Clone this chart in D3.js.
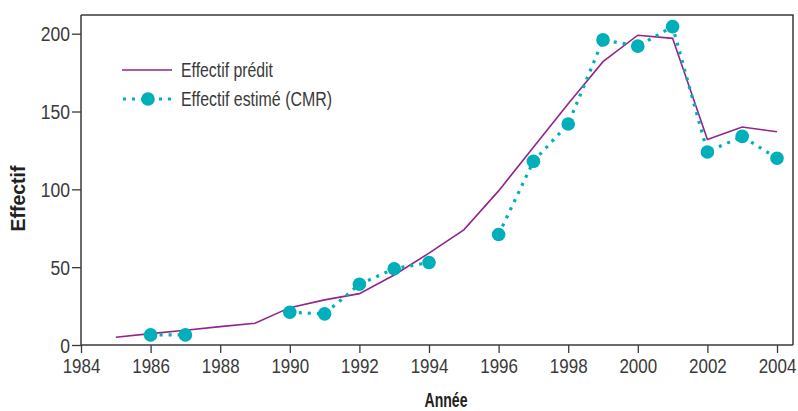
<!DOCTYPE html>
<html>
<head>
<meta charset="utf-8">
<script src="https://cdn.jsdelivr.net/npm/d3@7"></script>
<style>
  html, body { margin: 0; padding: 0; background: #fff; }
  svg { display: block; }
  text { font-family: "Liberation Sans", Arial, sans-serif; }
</style>
</head>
<body>
<svg id="chart" width="798" height="411"></svg>
<script>
// Years covered by each series
const predYears = [1985, 1986, 1987, 1988, 1989, 1990, 1991, 1992, 1993, 1994, 1995, 1996, 1997, 1998, 1999, 2000, 2001, 2002, 2003, 2004];
// Predicted population (solid line)
const predValues = [5, 7.3, 9.5, 11.8, 14, 24, 29, 33, 45, 59, 74, 99, 127, 155, 182, 199, 197, 132, 140, 137];

const estYears = [1986, 1987, 1988, 1989, 1990, 1991, 1992, 1993, 1994, 1995, 1996, 1997, 1998, 1999, 2000, 2001, 2002, 2003, 2004];
// Capture-mark-recapture estimates (null = no estimate that year)
const estValues = [6.5, 6.5, null, null, 21, 20, 39, 49, 53, null, 71, 118, 142, 196, 192, 204.5, 124, 134, 120];

const xTicks = [1984, 1986, 1988, 1990, 1992, 1994, 1996, 1998, 2000, 2002, 2004];
const yTicks = [0, 50, 100, 150, 200];

const legendLabels = ["Effectif prédit", "Effectif estimé (CMR)"];
const xTitle = "Année";
const yTitle = "Effectif";

const purple = "#93248c";
const teal = "#00afb9";
const ink = "#3a3a3a";

const svg = d3.select("#chart");

const plotLeft = 81, plotRight = 793, plotTop = 15, plotBottom = 345;
const x = d3.scaleLinear().domain([1984, 2004]).range([plotLeft, 777]);
const y = d3.scaleLinear().domain([0, 212]).range([plotBottom, plotTop]);

// Squeeze text horizontally around its anchor point (condensed look)
function narrow(sel, sx) {
  sel.each(function () {
    const t = d3.select(this);
    const x0 = +t.attr("x") || 0, y0 = +t.attr("y") || 0;
    t.attr("x", 0).attr("y", 0).attr("transform", `translate(${x0},${y0}) scale(${sx},1)`);
  });
}

// Frame: top and right edges
svg.append("path")
  .attr("d", `M${plotLeft},${plotTop}H${plotRight}V${plotBottom}`)
  .attr("fill", "none").attr("stroke", ink).attr("stroke-width", 1.5);

// Axes
const xAxis = svg.append("g").attr("transform", `translate(0,${plotBottom})`)
  .call(d3.axisBottom(x).tickValues(xTicks).tickFormat(d3.format("d")).tickSize(8).tickPadding(6).tickSizeOuter(0));
xAxis.select(".domain").attr("d", `M${plotLeft},0H${plotRight}`);
const yAxis = svg.append("g").attr("transform", `translate(${plotLeft},0)`)
  .call(d3.axisLeft(y).tickValues(yTicks).tickSize(9).tickPadding(2).tickSizeOuter(0));
yAxis.select(".domain").attr("d", `M0,${plotTop}V${plotBottom}`);

[xAxis, yAxis].forEach(g => {
  g.select(".domain").attr("stroke", ink).attr("stroke-width", 1.5);
  g.selectAll(".tick line").attr("stroke", ink).attr("stroke-width", 1.3);
  g.selectAll(".tick text").attr("fill", ink).attr("font-size", 19.5)
    .style("font-family", '"Liberation Sans", Arial, sans-serif');
});
yAxis.selectAll(".tick text").attr("dy", "0.36em");
narrow(xAxis.selectAll(".tick text"), 0.87);
narrow(yAxis.selectAll(".tick text"), 0.9);

// Axis titles
svg.append("text").text(xTitle)
  .attr("x", 446).attr("y", 407).attr("text-anchor", "middle")
  .attr("font-size", 20).attr("font-weight", "bold").attr("fill", "#222")
  .attr("textLength", 43).attr("lengthAdjust", "spacingAndGlyphs");
svg.append("text").text(yTitle)
  .attr("transform", "translate(25,198.5) rotate(-90)").attr("text-anchor", "middle")
  .attr("font-size", 20.5).attr("font-weight", "bold").attr("fill", "#222")
  .attr("textLength", 66).attr("lengthAdjust", "spacingAndGlyphs");

// Predicted line
const predData = predYears.map((yr, i) => ({ yr, v: predValues[i] }));
svg.append("path").datum(predData)
  .attr("fill", "none").attr("stroke", purple).attr("stroke-width", 1.6)
  .attr("d", d3.line().x(d => x(d.yr)).y(d => y(d.v)));

// Estimated: dotted line with markers
const estData = estYears.map((yr, i) => ({ yr, v: estValues[i] }));
svg.append("path").datum(estData)
  .attr("fill", "none").attr("stroke", teal).attr("stroke-width", 3.2)
  .attr("stroke-dasharray", "3,6")
  .attr("d", d3.line().defined(d => d.v !== null).x(d => x(d.yr)).y(d => y(d.v)));
svg.append("g").selectAll("circle")
  .data(estData.filter(d => d.v !== null)).join("circle")
  .attr("cx", d => x(d.yr)).attr("cy", d => y(d.v)).attr("r", 6.8)
  .attr("fill", teal);

// Legend
const lg = svg.append("g");
lg.append("line").attr("x1", 122).attr("x2", 172).attr("y1", 70).attr("y2", 70)
  .attr("stroke", purple).attr("stroke-width", 1.6);
lg.append("text").text(legendLabels[0]).attr("x", 181).attr("y", 77)
  .attr("font-size", 19.5).attr("fill", ink)
  .attr("textLength", 92).attr("lengthAdjust", "spacingAndGlyphs");
lg.append("line").attr("x1", 123).attr("x2", 172).attr("y1", 99).attr("y2", 99)
  .attr("stroke", teal).attr("stroke-width", 3.2).attr("stroke-dasharray", "3,6");
lg.append("circle").attr("cx", 148).attr("cy", 99).attr("r", 6.8).attr("fill", teal);
lg.append("text").text(legendLabels[1]).attr("x", 181).attr("y", 106)
  .attr("font-size", 19.5).attr("fill", ink)
  .attr("textLength", 151).attr("lengthAdjust", "spacingAndGlyphs");
</script>
</body>
</html>
